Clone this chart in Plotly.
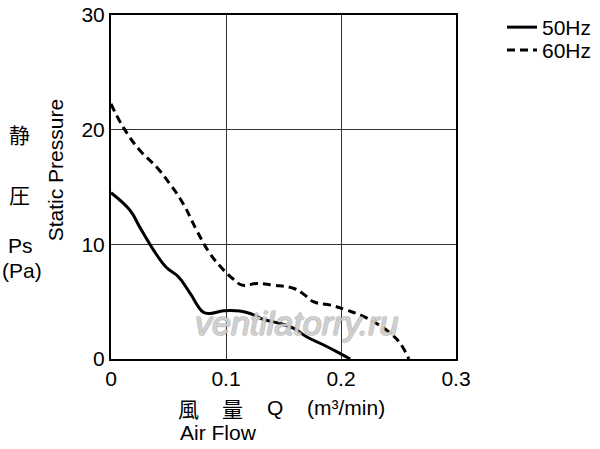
import plotly.graph_objects as go

# 50Hz curve (Air flow m3/min, static pressure Pa)
q50 = [0.0, 0.0165, 0.025, 0.037, 0.048, 0.0586, 0.069, 0.080, 0.086, 0.098, 0.112, 0.121, 0.1326, 0.147, 0.159, 0.170, 0.185, 0.199, 0.208]
p50 = [14.5, 12.97, 11.5, 9.5, 8.0, 7.17, 5.7, 4.1, 3.97, 4.2, 4.18, 3.97, 3.45, 3.1, 2.67, 1.94, 1.22, 0.49, 0.0]

# 60Hz curve
q60 = [0.0, 0.0107, 0.025, 0.040, 0.051, 0.063, 0.0746, 0.086, 0.098, 0.106, 0.114, 0.127, 0.141, 0.159, 0.167, 0.176, 0.191, 0.205, 0.217, 0.231, 0.243, 0.2515, 0.259]
p60 = [22.25, 20.2, 18.2, 16.7, 15.3, 13.5, 11.2, 9.2, 7.75, 7.0, 6.44, 6.58, 6.44, 6.15, 5.7, 5.0, 4.7, 4.26, 3.83, 3.1, 2.23, 1.36, 0.0]

x_ticks = [0, 0.1, 0.2, 0.3]
x_tick_labels = ["0", "0.1", "0.2", "0.3"]
y_ticks = [0, 10, 20, 30]
y_tick_labels = ["0", "10", "20", "30"]

FONT = "Liberation Sans, Arial, Helvetica, sans-serif"
CJK = "Noto Sans CJK JP, Noto Sans CJK SC, sans-serif"
FS = 21

fig = go.Figure()
fig.add_trace(go.Scatter(x=q50, y=p50, mode="lines", name="50Hz", legend="legend",
                         line=dict(color="black", width=3, shape="spline", smoothing=1.2)))
fig.add_trace(go.Scatter(x=q60, y=p60, mode="lines", name="60Hz", legend="legend2",
                         line=dict(color="black", width=3, shape="spline", smoothing=1.2, dash="8px,5px")))

axis_common = dict(showline=True, linecolor="black", linewidth=2, mirror=True,
                   showgrid=True, gridcolor="#333333", gridwidth=1, zeroline=False,
                   automargin=False, ticklabeloverflow="allow",
                   ticks="", tickfont=dict(family=FONT, size=FS, color="black"))

fig.update_xaxes(range=[0, 0.3], tickvals=x_ticks, ticktext=x_tick_labels, **axis_common)
fig.update_yaxes(range=[0, 30], tickvals=y_ticks, ticktext=y_tick_labels, **axis_common)

W, H = 600, 449
PL, PR, PT, PB = 111, 456, 14.5, 359      # plot area in page pixels
L, T, R, B = PL, PT, W - PR, H - PB

def px(xp): return (xp - PL) / (PR - PL)
def py(yp): return (PB - yp) / (PB - PT)

ann = []
def add(text, x, y, size=FS, font=FONT, angle=0, xanchor="center"):
    ann.append(dict(text=text, x=px(x), y=py(y), xref="paper", yref="paper", showarrow=False,
                    xanchor=xanchor, yanchor="middle", textangle=angle,
                    font=dict(family=font, size=size, color="black")))

add("静", 19, 134, size=21, font=CJK)
add("圧", 19, 194, size=21, font=CJK)
add("Ps", 20, 245)
add("(Pa)", 22, 270)
add("Static Pressure", 55, 170, angle=-90)
add("風", 188, 408, size=21, font=CJK)
add("量", 232, 408, size=21, font=CJK)
add("Q", 275, 408)
add("(m³/min)", 305, 408, xanchor="left")
add("Air Flow", 178, 433, xanchor="left")
ann.append(dict(text="<i>ventilatorry.ru</i>", x=px(297), y=py(323), xref="paper", yref="paper",
                showarrow=False, xanchor="center", yanchor="middle",
                font=dict(family=FONT, size=34, color="rgba(255,255,255,0.5)",
                          shadow="1px 0 #999, -1px 0 #999, 0 1px #999, 0 -1px #999")))

leg_common = dict(xanchor="left", yanchor="middle", bgcolor="rgba(0,0,0,0)",
                  font=dict(family=FONT, size=FS, color="black"), itemwidth=30)

fig.update_layout(
    width=W, height=H,
    margin=dict(l=L, r=R, t=T, b=B, autoexpand=False, pad=0),
    paper_bgcolor="white", plot_bgcolor="white",
    showlegend=True,
    legend=dict(x=px(502), y=py(27), **leg_common),
    legend2=dict(x=px(502), y=py(50), **leg_common),
    annotations=ann,
)

fig.write_html("out.html", config={"displayModeBar": False},
               post_script="document.body.style.margin='0px';")
